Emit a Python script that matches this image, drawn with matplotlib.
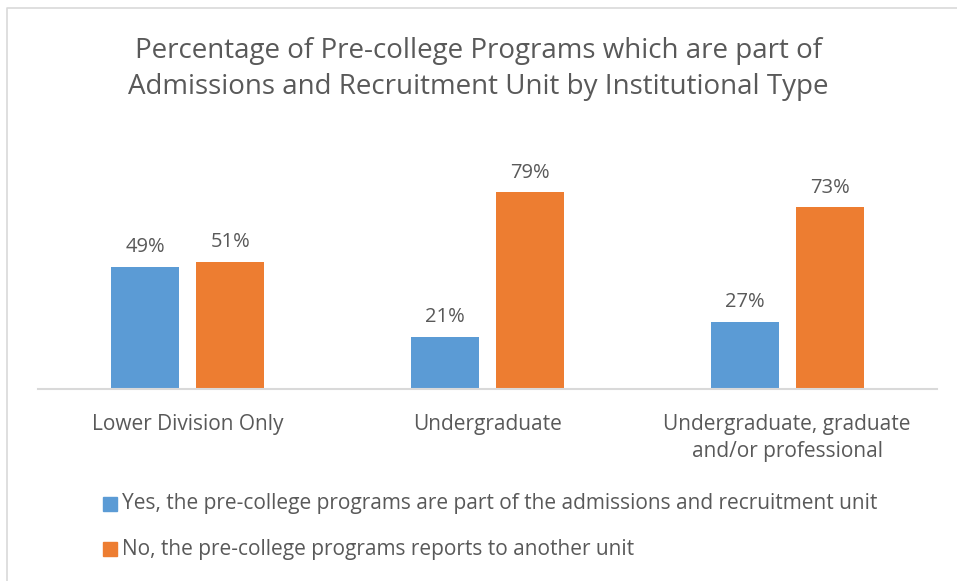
import matplotlib.pyplot as plt
from matplotlib.patches import Rectangle
from matplotlib.lines import Line2D
import numpy as np

plt.rcParams['font.family'] = ['Open Sans', 'DejaVu Sans']

# --- datos ---
categories = ['Lower Division Only', 'Undergraduate',
              'Undergraduate, graduate\nand/or professional']
yes_vals = [0.49, 0.21, 0.27]
no_vals = [0.51, 0.79, 0.73]
yes_label = 'Yes, the pre-college programs are part of the admissions and recruitment unit'
no_label = 'No, the pre-college programs reports to another unit'

BLUE = '#5B9BD5'
ORANGE = '#ED7D31'
TXT = '#595959'

W, H = 957, 581
fig = plt.figure(figsize=(W / 100, H / 100), dpi=100)
fig.patch.set_facecolor('white')

# borde gris del grafico (solo se ven arriba e izquierda)
fig.lines.append(Line2D([7 / W, 7 / W, 1.0], [0.0, 1 - 8 / H, 1 - 8 / H], transform=fig.transFigure,
                        color='#D9D9D9', linewidth=1.2))

ax = fig.add_axes([38 / W, 1 - 389 / H, 899 / W, (389 - 140) / H])
x = np.arange(len(categories))
bw = 0.227
off = 0.142
b1 = ax.bar(x - off, yes_vals, bw, color=BLUE)
b2 = ax.bar(x + off, no_vals, bw, color=ORANGE)

for bars in (b1, b2):
    for r in bars:
        ax.annotate(f'{r.get_height() * 100:.0f}%', (r.get_x() + r.get_width() / 2, r.get_height()),
                    xytext=(0, 7), textcoords='offset points', ha='center', va='bottom',
                    fontsize=14.5, color=TXT)

ax.set_xlim(-0.5, 2.5)
ax.set_ylim(0, 1.0)
ax.set_yticks([])
ax.set_xticks(x)
ax.set_xticklabels(categories, fontsize=15, color=TXT, linespacing=1.35)
ax.tick_params(axis='x', length=0, pad=18)
for s in ['top', 'right', 'left']:
    ax.spines[s].set_visible(False)
ax.spines['bottom'].set_color('#D9D9D9')
ax.spines['bottom'].set_linewidth(1.5)

fig.text(0.5, 1 - 69 / H, 'Percentage of Pre-college Programs which are part of\n'
         'Admissions and Recruitment Unit by Institutional Type',
         ha='center', va='center', fontsize=20, color=TXT, linespacing=1.35)

# leyenda manual
for yc, col, lab in [(504, BLUE, yes_label), (549, ORANGE, no_label)]:
    fig.patches.append(Rectangle((103 / W, 1 - (yc + 7) / H), 14 / W, 14 / H,
                                 transform=fig.transFigure, color=col))
    fig.text(122 / W, 1 - yc / H, lab, ha='left', va='center', fontsize=15, color=TXT)

plt.savefig('out.png', dpi=100, facecolor='white')
